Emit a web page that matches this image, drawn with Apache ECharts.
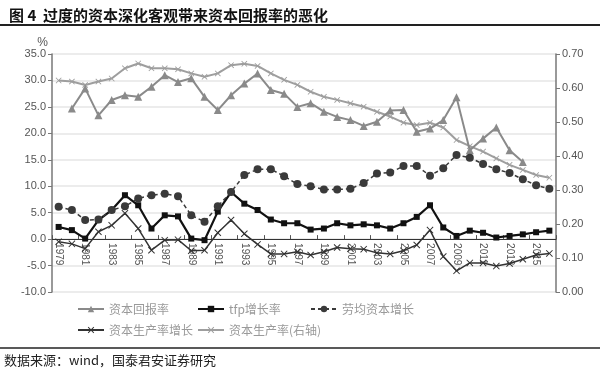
<!DOCTYPE html>
<html><head><meta charset="utf-8">
<script src="https://cdn.jsdelivr.net/npm/echarts@6/dist/echarts.min.js"></script>
<style>html,body{margin:0;padding:0;background:#fff}#c{width:600px;height:370px}</style>
</head><body><div id="c"></div>
<script>
const years = [];
for (let y = 1979; y <= 2016; y++) years.push(String(y));
const leftTicks = [-10, 35, 5];
const rightTicks = [0, 0.7, 0.1];
// 资本回报率 (%)
const capReturn = [null,24.7,28.5,23.4,26.3,27.2,26.9,28.8,31.0,29.7,30.4,26.9,24.4,27.2,29.4,31.3,28.2,27.5,25.0,25.7,24.1,23.1,22.5,21.4,22.2,24.3,24.4,20.3,20.9,22.5,26.8,16.8,19.0,21.1,16.8,14.6,null,null];
// tfp增长率 (%)
const tfpGrowth = [2.3,1.7,0.1,3.6,5.5,8.3,6.4,2.0,4.5,4.3,0.1,-0.2,5.2,8.9,6.7,5.5,3.7,3.0,3.0,1.8,2.0,3.0,2.6,2.8,2.6,2.0,3.0,4.2,6.4,2.2,0.6,1.6,1.2,0.3,0.6,0.9,1.3,1.6];
// 劳均资本增长 (%)
const laborCap = [6.1,5.5,3.6,3.7,5.5,6.2,7.7,8.3,8.6,8.1,4.5,3.3,6.2,8.9,12.1,13.2,13.2,11.9,10.4,10.0,9.4,9.4,9.5,10.6,12.4,12.6,13.8,13.8,12.0,13.4,15.9,15.4,14.2,13.2,12.5,11.3,10.2,9.5];
// 资本生产率增长 (%)
const capProdGrowth = [-0.5,-0.9,-1.8,1.4,2.6,4.9,2.0,-2.1,-0.2,-0.1,-2.2,-2.1,1.2,3.6,1.0,-1.0,-2.8,-2.8,-2.4,-3.0,-2.4,-1.6,-1.8,-1.9,-2.6,-2.8,-2.2,-1.1,1.7,-3.3,-6.0,-4.5,-4.5,-5.1,-4.6,-3.8,-3.0,-2.7];
// 资本生产率 (右轴)
const capProd = [0.622,0.619,0.609,0.619,0.628,0.658,0.672,0.658,0.658,0.655,0.643,0.633,0.643,0.667,0.671,0.665,0.643,0.624,0.609,0.589,0.574,0.565,0.555,0.545,0.530,0.516,0.498,0.491,0.498,0.484,0.447,0.429,0.413,0.393,0.374,0.359,0.344,0.336];

const gridTop = 54, gridBottom = 78, H = 370;
const plotH = H - gridTop - gridBottom;
const zeroOffset = -plotH * (0 - leftTicks[0]) / (leftTicks[1] - leftTicks[0]);

const xSym = 'path://M0,1L1,0L5,4L9,0L10,1L6,5L10,9L9,10L5,6L1,10L0,9L4,5Z';
const legendBase = {itemWidth: 26, itemHeight: 8, textStyle: {color: '#9a9a9a', fontSize: 12, fontFamily: 'Noto Sans CJK SC'}};
const chart = echarts.init(document.getElementById('c'));
chart.setOption({
  animation: false,
  backgroundColor: '#fff',
  title: {text: '图 4  过度的资本深化客观带来资本回报率的恶化', left: 4, top: 3,
    textStyle: {fontSize: 15, fontWeight: 'bold', color: '#111', fontFamily: 'Noto Sans CJK SC'}},
  graphic: [
    {type: 'line', shape: {x1: 0, y1: 25, x2: 600, y2: 25}, style: {stroke: '#222', lineWidth: 2}},
    {type: 'line', shape: {x1: 0, y1: 348, x2: 600, y2: 348}, style: {stroke: '#222', lineWidth: 1.5}},
    {type: 'text', left: 4, top: 354, style: {text: '数据来源：wind，国泰君安证券研究', fontSize: 13, fill: '#222', fontFamily: 'Noto Sans CJK SC'}}
  ],
  legend: [
    Object.assign({left: 72, top: 298, data: ['资本回报率']}, legendBase),
    Object.assign({left: 192, top: 298, data: ['tfp增长率']}, legendBase),
    Object.assign({left: 305, top: 298, data: ['劳均资本增长']}, legendBase),
    Object.assign({left: 72, top: 319, data: ['资本生产率增长']}, legendBase),
    Object.assign({left: 192, top: 319, data: ['资本生产率(右轴)']}, legendBase)
  ],
  grid: {left: 52, right: 44, top: gridTop, bottom: gridBottom},
  xAxis: {
    type: 'category', data: years, boundaryGap: true, offset: zeroOffset,
    axisLine: {onZero: false, lineStyle: {color: '#333', width: 1}},
    axisTick: {show: true, interval: 1, inside: true, length: 4, lineStyle: {color: '#555'}},
    axisLabel: {interval: 1, rotate: -90, fontSize: 10, color: '#555', margin: 4}
  },
  yAxis: [
    {type: 'value', min: leftTicks[0], max: leftTicks[1], interval: leftTicks[2],
     name: '%', nameLocation: 'end', nameGap: 2,
     nameTextStyle: {color: '#555', fontSize: 12, align: 'right', padding: [0, 4, -6, 0]},
     axisLine: {show: true, lineStyle: {color: '#777', width: 1.5}},
     axisTick: {show: true, length: 4, lineStyle: {color: '#777'}},
     axisLabel: {formatter: v => v.toFixed(1), color: '#555', fontSize: 11, margin: 6},
     splitLine: {lineStyle: {color: '#e6e6e6', width: 1.5}}},
    {type: 'value', min: rightTicks[0], max: rightTicks[1], interval: rightTicks[2],
     axisLine: {show: true, lineStyle: {color: '#777', width: 1.5}},
     axisTick: {show: true, length: 4, lineStyle: {color: '#777'}},
     axisLabel: {formatter: v => v.toFixed(2), color: '#555', fontSize: 11, margin: 6},
     splitLine: {show: false}}
  ],
  series: [
    {name: '资本回报率', type: 'line', yAxisIndex: 0, data: capReturn, connectNulls: false,
     symbol: 'triangle', symbolSize: 8, itemStyle: {color: '#8a8a8a'}, lineStyle: {color: '#8a8a8a', width: 2}},
    {name: 'tfp增长率', type: 'line', yAxisIndex: 0, data: tfpGrowth,
     symbol: 'rect', symbolSize: 6, itemStyle: {color: '#111'}, lineStyle: {color: '#111', width: 2.2}},
    {name: '劳均资本增长', type: 'line', yAxisIndex: 0, data: laborCap,
     symbol: 'circle', symbolSize: 8, itemStyle: {color: '#3a3a3a'}, lineStyle: {color: '#3a3a3a', width: 1.5, type: [4, 3]}},
    {name: '资本生产率增长', type: 'line', yAxisIndex: 0, data: capProdGrowth,
     symbol: xSym, symbolSize: 7, itemStyle: {color: '#333'}, lineStyle: {color: '#333', width: 1.5}},
    {name: '资本生产率(右轴)', type: 'line', yAxisIndex: 1, data: capProd,
     symbol: xSym, symbolSize: 6, itemStyle: {color: '#9e9e9e'}, lineStyle: {color: '#9e9e9e', width: 2}, z: 1}
  ]
});
</script></body></html>
